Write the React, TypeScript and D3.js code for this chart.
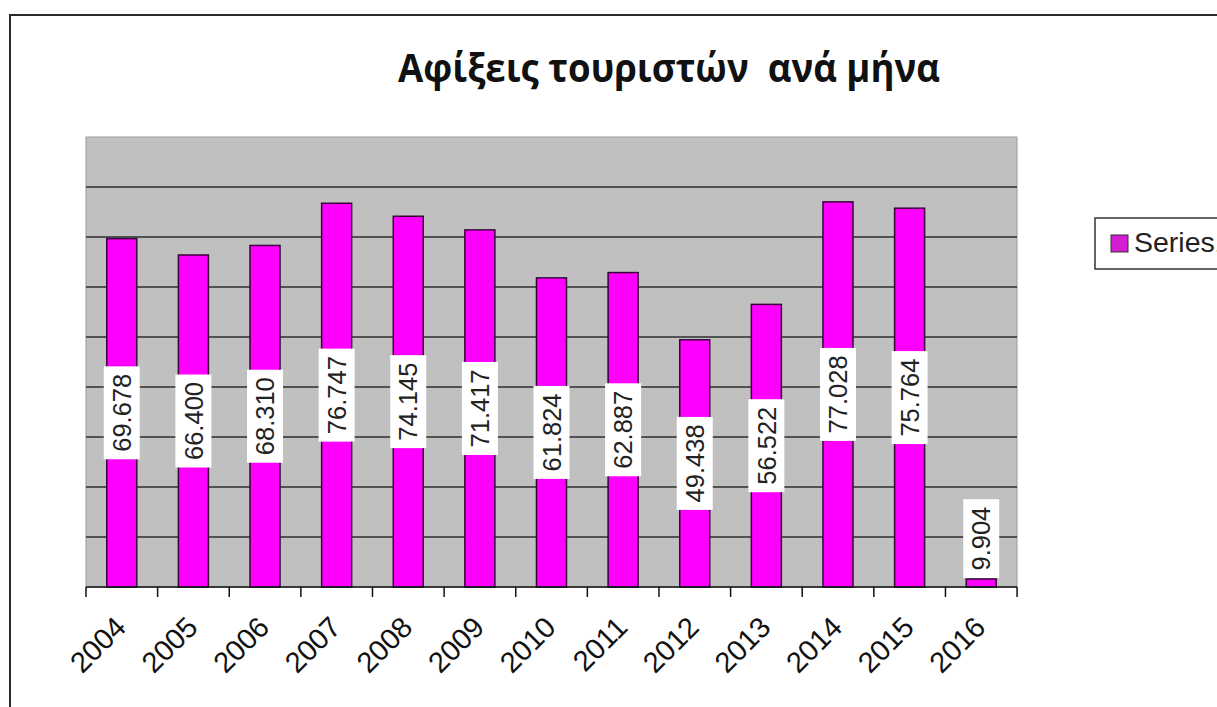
import React from 'react'
import * as d3 from 'd3'

const title = 'Αφίξεις τουριστών  ανά μήνα'
const years = ['2004', '2005', '2006', '2007', '2008', '2009', '2010', '2011', '2012', '2013', '2014', '2015', '2016']
// bar heights as drawn (thousands); the 2016 bar is drawn much shorter than its label says
const values = [69.678, 66.4, 68.31, 76.747, 74.145, 71.417, 61.824, 62.887, 49.438, 56.522, 77.028, 75.764, 1.6]
const labels = ['69.678', '66.400', '68.310', '76.747', '74.145', '71.417', '61.824', '62.887', '49.438', '56.522', '77.028', '75.764', '9.904']
const yTicks = [0, 10, 20, 30, 40, 50, 60, 70, 80, 90]
const seriesName = 'Series1'

export default function App() {
  const W = 1217
  const H = 707
  const left = 86
  const right = 1017
  const top = 137
  const bottom = 587

  const x = d3.scaleBand<string>().domain(years).range([left, right]).paddingInner(0.581).paddingOuter(0.29)
  const step = x.step()
  const y = d3.scaleLinear().domain([0, 90]).range([bottom, top])

  const labelFont = 25.5
  const textW = (s: string) => s.split('').reduce((a, c) => a + (c === '.' ? 0.278 : 0.556), 0) * labelFont

  return (
    <svg width={W} height={H} style={{ position: 'absolute', left: 0, top: 0 }} fontFamily="Arial, 'Liberation Sans', sans-serif">
      <rect width={W} height={H} fill="#fff" />
      {/* outer chart border */}
      <path d={`M10,${H + 5}V15H${W + 5}`} fill="none" stroke="#2a2a2a" strokeWidth={2} />

      <text x={398} y={82} fontFamily="'Open Sans', sans-serif" fontWeight="bold" fontSize={39}
        textLength={542} lengthAdjust="spacingAndGlyphs" style={{ whiteSpace: 'pre' }} fill="#111">
        {title}
      </text>

      {/* plot area */}
      <rect x={left} y={top} width={right - left} height={bottom - top} fill="#c0c0c0" stroke="#9a9a9a" strokeWidth={1} />
      {yTicks.slice(1, -1).map(t => (
        <line key={t} x1={left} x2={right} y1={y(t)} y2={y(t)} stroke="#2e2e2e" strokeWidth={1.6} />
      ))}

      {values.map((v, i) => {
        const bx = x(years[i])!
        return (
          <rect key={years[i]} x={bx} y={y(v)} width={x.bandwidth()} height={y(0) - y(v)}
            fill="#ff00ff" stroke="#3a003a" strokeWidth={1.5} />
        )
      })}

      {/* x axis */}
      <line x1={left} x2={right} y1={bottom} y2={bottom} stroke="#111" strokeWidth={1.5} />
      {d3.range(years.length + 1).map(i => (
        <line key={i} x1={left + i * step} x2={left + i * step} y1={bottom} y2={bottom + 10} stroke="#111" strokeWidth={1.5} />
      ))}
      {years.map(yr => {
        const cx = x(yr)! + x.bandwidth() / 2
        return (
          <text key={yr} transform={`translate(${cx + 6},${629}) rotate(-45)`} textAnchor="end" fontSize={29} fill="#111">
            {yr}
          </text>
        )
      })}

      {/* data labels */}
      {values.map((v, i) => {
        const cx = x(years[i])! + x.bandwidth() / 2
        const boxH = textW(labels[i]) + 15
        const barH = y(0) - y(v)
        const cy = barH > boxH ? (y(v) + y(0)) / 2 : y(v) - 1 - boxH / 2
        return (
          <g key={'l' + i} transform={`translate(${cx},${cy})`}>
            <rect x={-18} y={-boxH / 2} width={36} height={boxH} fill="#fff" />
            <text transform="rotate(-90)" textAnchor="middle" dy="0.36em" fontSize={labelFont} fill="#222">
              {labels[i]}
            </text>
          </g>
        )
      })}

      {/* legend */}
      <rect x={1095} y={218} width={150} height={51} fill="#fff" stroke="#333" strokeWidth={1.5} />
      <rect x={1111} y={235} width={17} height={17} fill="#d21fd2" stroke="#333" strokeWidth={1} />
      <text x={1134} y={252} fontSize={28.5} fill="#222">{seriesName}</text>
    </svg>
  )
}
